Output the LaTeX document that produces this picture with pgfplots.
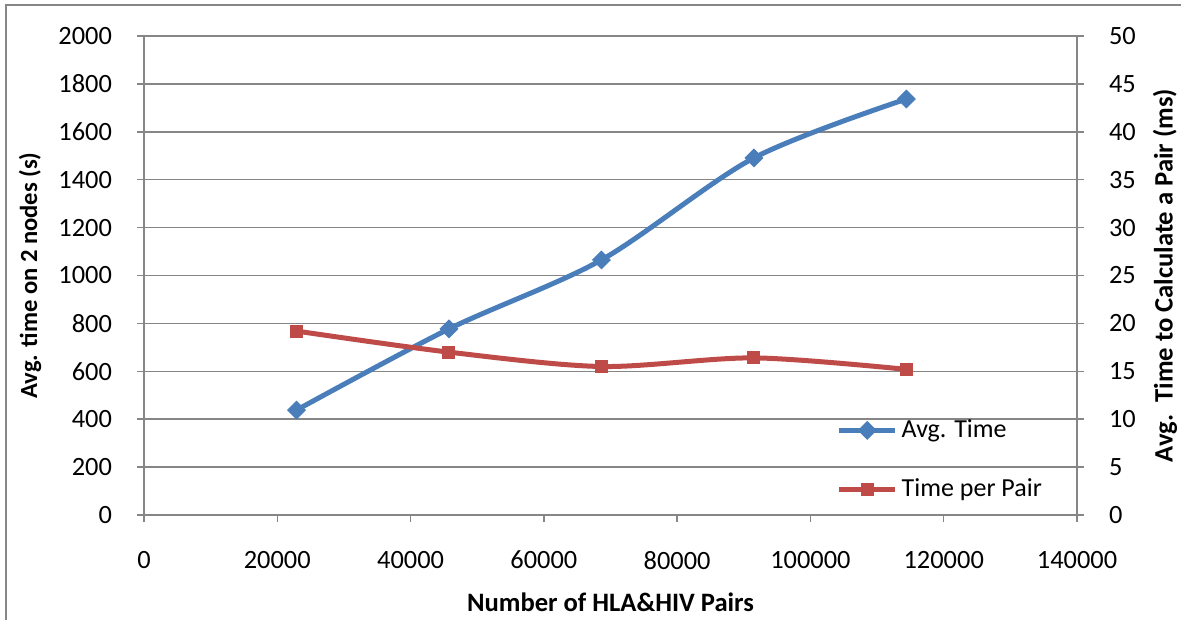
\documentclass[border=0pt]{standalone}
\usepackage{fontspec}
\setmainfont{Carlito}
\usepackage{pgfplots}
\pgfplotsset{compat=1.18}

\definecolor{gridgray}{RGB}{134,134,134}
\definecolor{avgblue}{RGB}{74,126,187}
\definecolor{pairred}{RGB}{190,75,72}

\pgfplotsset{
  chartbase/.style={
    at={(0,0)}, anchor=south west,
    scale only axis, width=466.5pt, height=239.5pt,
    xmin=0, xmax=140000,
    xtick={0,20000,...,140000},
    scaled ticks=false,
    /pgf/number format/fixed,
    /pgf/number format/set thousands separator={},
    /pgf/number format/assume math mode=true,
    tick label style={font=\fontsize{13.2}{15}\selectfont, text=black},
    label style={font=\fontsize{13.3}{15}\selectfont\bfseries},
    tick align=outside,
    major tick length=3.5pt,
    every tick/.style={gridgray, line width=0.75pt},
    axis line style={gridgray, line width=0.75pt},
  },
  avgstyle/.style={avgblue, line width=2.5pt, smooth, tension=0.5,
    mark=square*, mark size=3.1pt,
    mark options={rotate=45, solid, fill=avgblue, draw=avgblue, line width=0.5pt}},
  pairstyle/.style={pairred, line width=2.5pt, smooth, tension=0.5,
    mark=square*, mark size=3pt,
    mark options={solid, fill=pairred, draw=pairred, line width=0.5pt}},
}

\begin{document}
\begin{tikzpicture}
% left axis: average run time in seconds
\begin{axis}[chartbase,
  ymin=0, ymax=2000, ytick={0,200,...,2000},
  axis y line*=left, axis x line*=bottom,
  ymajorgrids, major grid style={gridgray, line width=0.75pt},
  xticklabel style={yshift=-11pt},
  yticklabel style={xshift=-9pt},
  xlabel={Number of HLA\&HIV Pairs},
  xlabel style={at={(axis description cs:0.5,-0.1816)}, anchor=center},
  ylabel={Avg. time on 2 nodes (s)},
  ylabel style={at={(axis description cs:-0.1222,0.5)}, anchor=center,
    font=\fontsize{12.3}{15}\selectfont\bfseries},
]
\addplot[avgstyle] coordinates {
  (22880,438) (45760,777) (68640,1065) (91520,1491) (114400,1737)
};
\end{axis}
% right axis: time per pair in milliseconds
\begin{axis}[chartbase,
  ymin=0, ymax=50, ytick={0,5,...,50},
  axis y line*=right, axis x line=none,
  yticklabel style={xshift=9pt},
  ylabel={Avg.\ \ Time to Calculate a Pair (ms)},
  ylabel style={at={(axis description cs:1.0943,0.5)}, anchor=center},
  legend style={at={(axis description cs:0.742,0.216)}, anchor=north west,
    draw=none, fill=none, font=\fontsize{13}{15}\selectfont,
    row sep=15pt, inner xsep=0pt},
  legend cell align=left,
  legend image code/.code={
    \draw[mark repeat=2, mark phase=2] plot coordinates {(0pt,0pt) (14pt,0pt) (28pt,0pt)};},
]
\addlegendimage{avgstyle}
\addlegendentry{Avg. Time}
\addplot[pairstyle] coordinates {
  (22880,19.2) (45760,17.0) (68640,15.5) (91520,16.4) (114400,15.2)
};
\addlegendentry{Time per Pair}
\end{axis}
% outer chart frame (top and left edges)
\draw[gridgray, line width=0.75pt] (-69pt,-52.5pt) -- (-69pt,255pt) -- (518.5pt,255pt);
\pgfresetboundingbox
\useasboundingbox (-72pt,-52.5pt) rectangle (518.5pt,257.5pt);
\end{tikzpicture}
\end{document}
